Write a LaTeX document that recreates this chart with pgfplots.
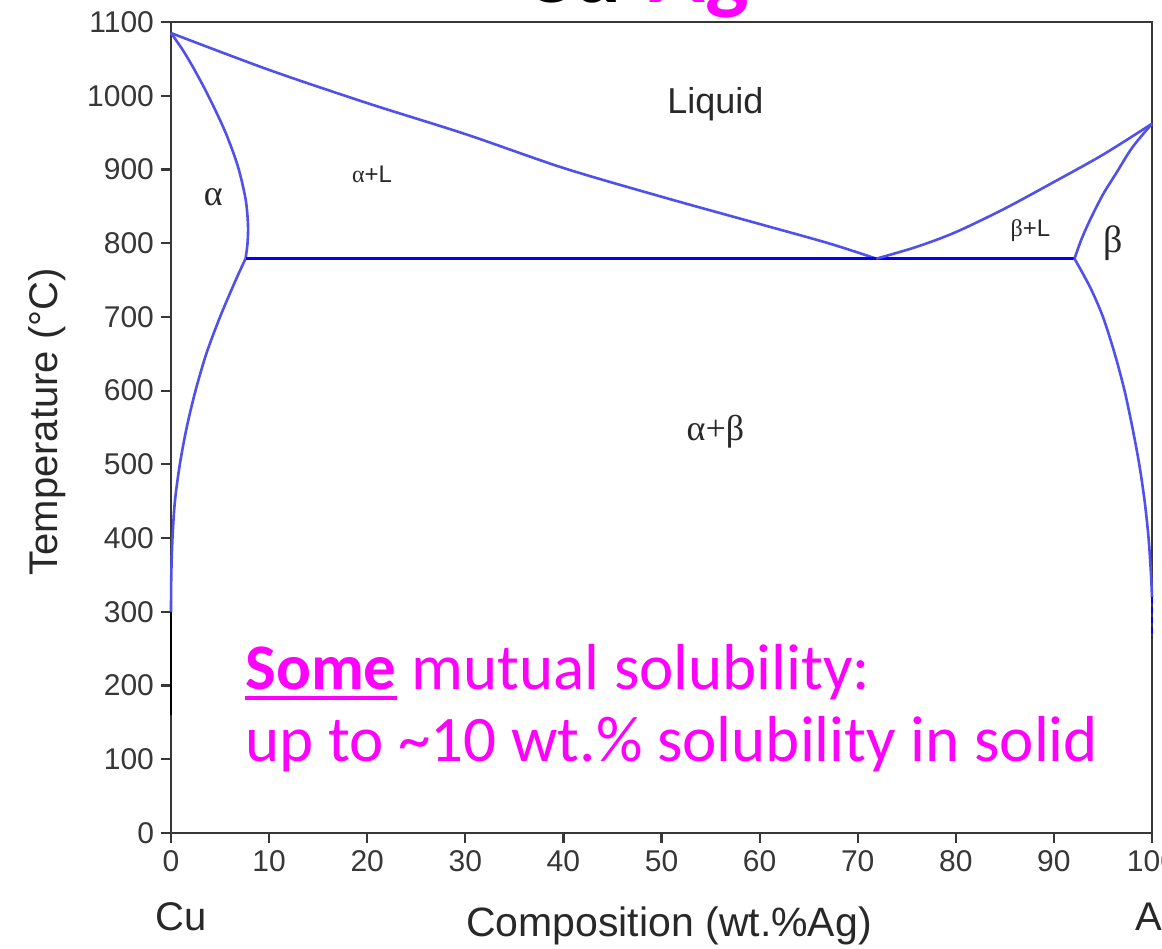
\documentclass[border=0pt]{standalone}
\usepackage{pgfplots}
\pgfplotsset{compat=1.18}
\usepackage{fontspec}
\setmainfont{Liberation Sans}
\newfontfamily\calibri{Carlito}
\newfontfamily\greekf{Liberation Serif}
\definecolor{pline}{RGB}{80,80,235}
\definecolor{mag}{RGB}{255,0,255}
\definecolor{axgray}{RGB}{55,55,55}
\definecolor{lblgray}{RGB}{40,40,40}
\newcommand\ul[1]{\setbox0\hbox{#1}\rlap{\rule[-5pt]{\wd0}{2pt}}\box0\relax}
\begin{document}
\begin{tikzpicture}[x=1pt,y=1pt]
\begin{axis}[
  at={(85.5pt,57.5pt)}, anchor=south west, scale only axis,
  width=490.5pt, height=405.5pt,
  xmin=0, xmax=100, ymin=0, ymax=1100,
  xtick={0,10,...,100}, ytick={0,100,...,1100},
  tick pos=left, tick align=outside, major tick length=5pt,
  axis line style={axgray, line width=1.2pt},
  every tick/.style={axgray, line width=1.1pt},
  tick label style={font=\fontsize{15}{18}\selectfont, text=axgray},
  /pgf/number format/assume math mode=true,
  /pgf/number format/1000 sep={},
  clip=false,
  every axis plot/.append style={pline, line width=1.3pt, no marks}
]
% liquidus (Cu side)
\addplot[smooth] coordinates {(0,1085) (10,1035) (20,990) (30,948) (40,902) (50,863) (60,826) (67,800) (71.9,779)};
% alpha solidus
\addplot[smooth] coordinates {(0,1085) (1.2,1062) (2.4,1035) (3.8,1000) (5.5,952) (6.8,905) (7.6,860) (7.85,825) (7.8,800) (7.6,779)};
% alpha solvus
\addplot[smooth] coordinates {(7.6,779) (6.6,750) (5.0,700) (3.6,650) (2.5,600) (1.6,550) (0.9,500) (0.4,450) (0.15,400) (0.03,350) (0,300)};
\addplot coordinates {(0,300) (0,160)};
% eutectic
\addplot coordinates {(7.6,779) (92.1,779)};
% liquidus (Ag side)
\addplot[smooth] coordinates {(71.9,779) (76,795) (80,815) (85,847) (90,883) (95,920) (100,962)};
% beta solidus
\addplot[smooth] coordinates {(100,962) (98,930) (96.4,896) (95,866) (93.7,832) (92.8,805) (92.1,779)};
% beta solvus
\addplot[smooth] coordinates {(92.1,779) (93.7,740) (95.0,700) (96.2,650) (97.2,600) (98.0,550) (98.7,500) (99.25,450) (99.65,400) (99.9,350) (100,320)};
\addplot coordinates {(100,320) (100,265)};

\node[font=\fontsize{18}{20}\selectfont, text=lblgray] at (axis cs:55.5,988) {Liquid};
\node[font=\fontsize{12}{14}\selectfont, text=lblgray] at (axis cs:20.5,893) {{\greekf α}+L};
\node[font=\greekf\fontsize{18}{20}\selectfont, text=lblgray] at (axis cs:4.3,862) {α};
\node[font=\fontsize{12}{14}\selectfont, text=lblgray] at (axis cs:87.6,817) {{\greekf β}+L};
\node[font=\greekf\fontsize{19}{20}\selectfont, text=lblgray] at (axis cs:96,800) {β};
\node[font=\greekf\fontsize{18}{20}\selectfont, text=lblgray] at (axis cs:55.5,544) {α+β};
\end{axis}
% axis titles and end labels
\node[anchor=base, font=\fontsize{20.5}{24}\selectfont, text=lblgray] at (334.5,5.5) {Composition (wt.\%Ag)};
\node[rotate=90, font=\fontsize{20}{24}\selectfont, text=lblgray] at (23.5,263) {Temperature (°C)};
\node[anchor=base west, inner sep=0pt, font=\fontsize{20}{24}\selectfont, text=lblgray] at (77.5,9) {Cu};
\node[anchor=base west, inner sep=0pt, font=\fontsize{20}{24}\selectfont, text=lblgray] at (567.5,9) {Ag};
% title (cut off at top)
\node[anchor=base west, inner sep=0pt, font=\calibri\bfseries\fontsize{46}{50}\selectfont] at (261.5,472.5) {Cu-\textcolor{mag}{Ag}};
% magenta remark
\node[anchor=base west, inner sep=0pt, text=mag, font=\calibri\fontsize{32.5}{36}\selectfont] at (122.5,129) {\ul{\bfseries Some} mutual solubility:};
\node[anchor=base west, inner sep=0pt, text=mag, font=\calibri\fontsize{32.5}{36}\selectfont] at (122.5,93) {up to \textasciitilde10 wt.\% solubility in solid};
\pgfresetboundingbox
\path[use as bounding box] (0,0) rectangle (581,474);
\end{tikzpicture}
\end{document}
